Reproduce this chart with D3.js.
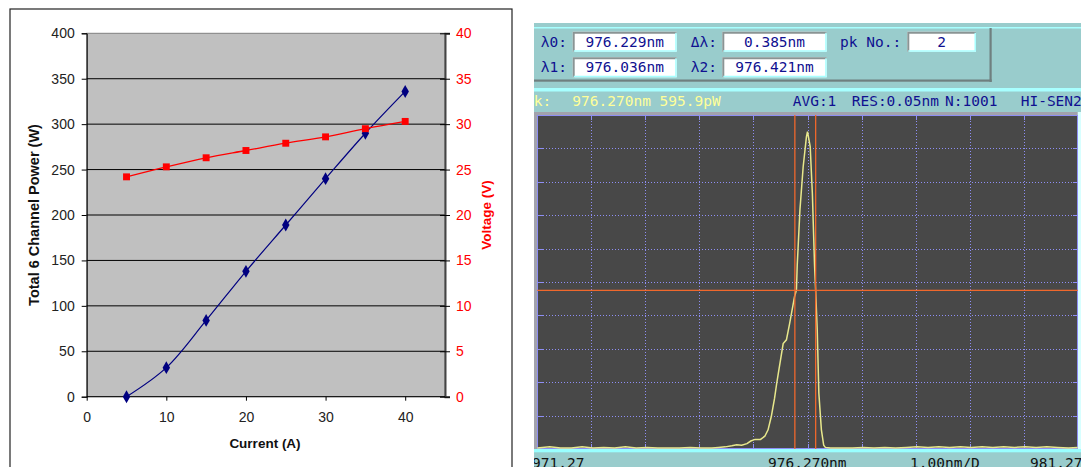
<!DOCTYPE html>
<html lang="en">
<head>
<meta charset="UTF-8">
<title>Channel power / voltage and spectrum</title>
<script src="https://cdnjs.cloudflare.com/ajax/libs/d3/7.8.5/d3.min.js"></script>
<style>
  *{margin:0;padding:0}
  body{background:#fff;width:1081px;height:467px;overflow:hidden}
  svg{display:block}
  .lc text{font-family:"Liberation Sans",Arial,sans-serif;font-size:13.5px}
  .osa text{font-family:"DejaVu Sans Mono",monospace;font-size:14.5px}
</style>
</head>
<body>
<svg id="chart" width="1081" height="467"></svg>
<script>
// left chart: power and voltage vs current
var current=[5,10,15,20,25,30,35,40]
var power=[0,32,84,138,189,240,290,336]
var voltage=[24.2,25.3,26.3,27.1,27.9,28.6,29.5,30.3]
var powerTicks=[0,50,100,150,200,250,300,350,400]
var voltTicks=[0,5,10,15,20,25,30,35,40]
var currentTicks=[0,10,20,30,40]

// right: OSA trace (nm, pW)
var wl=[971.27,971.5,971.7,971.9,972.1,972.3,972.5,972.7,972.9,973.1,973.3,973.5,973.7,973.9,974.1,974.3,974.5,
  974.62,974.75,974.87,974.96,975.05,975.15,975.22,975.30,975.40,975.48,975.54,975.60,975.66,975.70,975.73,
  975.82,975.88,975.94,976.03,976.065,976.08,976.13,976.19,976.25,976.27,976.32,976.36,976.40,976.42,976.45,
  976.48,976.527,976.57,976.60,976.7,976.9,977.1,977.3,977.5,977.7,977.9,978.1,978.3,978.5,978.7,978.9,979.1,
  979.3,979.5,979.7,979.9,980.1,980.3,980.5,980.7,980.9,981.1,981.27]
var pw=[2,4,2,2,4,2,3,2,4,2,3,2,2,2,3,2,2,
  3,4,6,8,7,10,15,18,18,24,36,61,95,123,142,
  198,205,236,286,299,345,449,530,586,595.9,568,480,346,299,224,
  105,36,7,3,2,2,2,3,2,3,2,3,4,3,4,3,4,
  3,4,3,4,3,4,3,4,3,2,3]
var lambda1=976.036, lambda2=976.421, peakPw=595.9
var fieldRows=[["λ0:","976.229nm","Δλ:","0.385nm"],["λ1:","976.036nm","λ2:","976.421nm"]]
var statusLeft=["Pk:","976.270nm 595.9pW"]
var statusRight=["AVG:1","RES:0.05nm","N:1001","HI-SEN2"]
var bottomLabels=["971.27","976.270nm","1.00nm/D","981.27"]

var svg=d3.select('#chart')

// ---------- left chart ----------
var lc=svg.append('g').attr('class','lc')
lc.append('rect').attr('x',10).attr('y',9).attr('width',502).attr('height',470)
  .attr('fill','#fff').attr('stroke','#222').attr('stroke-width',1.2)

var x=d3.scaleLinear().domain([0,45]).range([86.7,445])
var yL=d3.scaleLinear().domain([0,400]).range([396.7,33.3])
var yR=d3.scaleLinear().domain([0,40]).range([396.7,33.3])

lc.append('rect').attr('x',86.7).attr('y',33.3).attr('width',445-86.7).attr('height',396.7-33.3)
  .attr('fill','#c0c0c0').attr('stroke','#808080').attr('stroke-width',1)

lc.selectAll('line.grid').data(powerTicks.slice(1,-1)).enter().append('line')
  .attr('x1',86.7).attr('x2',445).attr('y1',function(d){return yL(d)}).attr('y2',function(d){return yL(d)})
  .attr('stroke','#000').attr('stroke-width',1)

var axL=lc.append('g').attr('transform','translate(86.7,0)')
  .call(d3.axisLeft(yL).tickValues(powerTicks).tickSize(5).tickPadding(7))
axL.selectAll('text').attr('fill','#222').style('font-size','14px')
axL.selectAll('line,path').attr('stroke','#000')

var axR=lc.append('g').attr('transform','translate(445,0)')
  .call(d3.axisRight(yR).tickValues(voltTicks).tickSize(5).tickPadding(6))
axR.selectAll('text').attr('fill','#ff0000').style('font-size','14px')
axR.selectAll('.tick').append('line').attr('x1',-5).attr('x2',0).attr('stroke','#000')
axR.selectAll('line').attr('stroke','#000')
axR.select('.domain').attr('stroke','#444').attr('stroke-width',2)

var axB=lc.append('g').attr('transform','translate(0,396.7)')
  .call(d3.axisBottom(x).tickValues(currentTicks).tickSize(4).tickPadding(11))
axB.selectAll('text').attr('fill','#222').style('font-size','14px')
axB.selectAll('line,path').attr('stroke','#000')
axB.select('.domain').attr('d','M86.7,0H445')

lc.append('text').text('Current (A)').attr('x',265).attr('y',448)
  .attr('text-anchor','middle').attr('font-weight','bold').attr('fill','#111')
lc.append('text').text('Total 6 Channel Power (W)').style('font-size','14.5px')
  .attr('transform','translate(39,215) rotate(-90)')
  .attr('text-anchor','middle').attr('font-weight','bold').attr('fill','#111')
lc.append('text').text('Voltage (V)')
  .attr('transform','translate(491,215) rotate(-90)')
  .attr('text-anchor','middle').attr('font-weight','bold').attr('fill','#ff0000')

var pLine=d3.line().x(function(d,i){return x(current[i])}).y(function(d){return yL(d)}).curve(d3.curveCatmullRom)
var vLine=d3.line().x(function(d,i){return x(current[i])}).y(function(d){return yR(d)}).curve(d3.curveCatmullRom)

lc.append('path').attr('d',pLine(power)).attr('fill','none').attr('stroke','#000080').attr('stroke-width',1.2)
lc.append('path').attr('d',vLine(voltage)).attr('fill','none').attr('stroke','#ff0000').attr('stroke-width',1.3)

lc.selectAll('path.pm').data(power).enter().append('path')
  .attr('d',d3.symbol(d3.symbolDiamond).size(48))
  .attr('transform',function(d,i){return 'translate('+x(current[i])+','+yL(d)+')'})
  .attr('fill','#000080')
lc.selectAll('path.vm').data(voltage).enter().append('path')
  .attr('d',d3.symbol(d3.symbolSquare).size(48))
  .attr('transform',function(d,i){return 'translate('+x(current[i])+','+yR(d)+')'})
  .attr('fill','#ff0000')

// ---------- right: OSA screen ----------
var teal='#99cccc', hi='#a8ffff', navy='#101090'
svg.append('clipPath').attr('id','osaclip').append('rect').attr('x',534).attr('y',0).attr('width',547).attr('height',467)
var osa=svg.append('g').attr('class','osa').attr('clip-path','url(#osaclip)')

osa.append('rect').attr('x',534).attr('y',23).attr('width',547).attr('height',444).attr('fill',teal)
osa.append('rect').attr('x',534).attr('y',27).attr('width',547).attr('height',1.5).attr('fill',hi)
// raised parameter panel shadow
osa.append('rect').attr('x',989.5).attr('y',28).attr('width',2.2).attr('height',54).attr('fill','#6f7f7f')
osa.append('rect').attr('x',534).attr('y',79.5).attr('width',457.7).attr('height',2.2).attr('fill','#6f7f7f')

var boxes=[[572.7,676.7],[722.3,826.7]]
var rowsY=[31.7,57.3]
fieldRows.forEach(function(r,ri){
  var y0=rowsY[ri]
  ;[0,1].forEach(function(k){
    var bx=boxes[k]
    osa.append('text').text(r[k*2]).attr('x',k?690.7:540.7).attr('y',y0+15).attr('fill',navy)
    drawBox(bx[0],y0,bx[1]-bx[0],20)
    osa.append('text').text(r[k*2+1]).attr('x',(bx[0]+bx[1])/2).attr('y',y0+15)
      .attr('text-anchor','middle').attr('fill',navy)
  })
})
osa.append('text').text('pk No.:').attr('x',840).attr('y',46.7).attr('fill',navy)
drawBox(907.3,31.7,68.7,20)
osa.append('text').text('2').attr('x',941.7).attr('y',46.7).attr('text-anchor','middle').attr('fill',navy)

function drawBox(bx,by,bw,bh){
  osa.append('rect').attr('x',bx).attr('y',by).attr('width',bw).attr('height',bh).attr('fill','#fff')
  osa.append('path').attr('d','M'+(bx+1)+','+(by+bh)+'V'+(by+1)+'H'+(bx+bw))
    .attr('fill','none').attr('stroke','#8a9494').attr('stroke-width',2)
  osa.append('path').attr('d','M'+(bx+1)+','+(by+bh-0.75)+'H'+(bx+bw-0.75)+'V'+(by+1))
    .attr('fill','none').attr('stroke',hi).attr('stroke-width',1.5)
}

// status bar
osa.append('rect').attr('x',534).attr('y',88).attr('width',547).attr('height',3.5).attr('fill',hi)
osa.append('text').text(statusLeft[0]).attr('x',525).attr('y',106).attr('fill','#ffff99')
osa.append('text').text(statusLeft[1]).attr('x',572.3).attr('y',106).attr('fill','#ffff99')
var srX=[792.7,851.7,945,1020.7]
statusRight.forEach(function(t,i){
  osa.append('text').text(t).attr('x',srX[i]).attr('y',106).attr('fill',navy)
})

// plot frame
var px=d3.scaleLinear().domain([971.27,981.27]).range([537.3,1077.7])
var py=d3.scaleLinear().domain([0,peakPw*334/317.3]).range([449,115])
var ymax=py.domain()[1]

osa.append('rect').attr('x',534).attr('y',112).attr('width',547).attr('height',3).attr('fill','#a2a2ac')
osa.append('rect').attr('x',534).attr('y',112).attr('width',3.3).attr('height',337).attr('fill','#a2a2ac')
osa.append('rect').attr('x',1077.7).attr('y',112).attr('width',4).attr('height',337).attr('fill','#d8ffff')
osa.append('rect').attr('x',537.3).attr('y',115).attr('width',540.4).attr('height',334).attr('fill','#484848')
osa.append('rect').attr('x',534).attr('y',449).attr('width',547).attr('height',3.3).attr('fill','#99ffff')

var grid='#8e8ef4'
var vg=d3.range(1,10).map(function(i){return 971.27+i})
var hg=d3.range(1,10).map(function(i){return ymax*i/10})
var snap=function(v){return Math.round(v)+0.5}
var gg=osa.append('g').attr('shape-rendering','crispEdges')
gg.selectAll('line.vg').data(vg).enter().append('line')
  .attr('x1',function(d){return snap(px(d))}).attr('x2',function(d){return snap(px(d))})
  .attr('y1',115).attr('y2',449).attr('stroke',grid).attr('stroke-dasharray','1,2')
gg.selectAll('line.hg').data(hg).enter().append('line')
  .attr('y1',function(d){return snap(py(d))}).attr('y2',function(d){return snap(py(d))})
  .attr('x1',537.3).attr('x2',1077.7).attr('stroke',grid).attr('stroke-dasharray','1,2')
// solid edge ticks
vg.forEach(function(d){
  gg.append('line').attr('x1',snap(px(d))).attr('x2',snap(px(d))).attr('y1',115).attr('y2',120).attr('stroke',grid)
  gg.append('line').attr('x1',snap(px(d))).attr('x2',snap(px(d))).attr('y1',444).attr('y2',449).attr('stroke',grid)
})
hg.forEach(function(d){
  gg.append('line').attr('y1',snap(py(d))).attr('y2',snap(py(d))).attr('x1',537.3).attr('x2',542.5).attr('stroke',grid)
  gg.append('line').attr('y1',snap(py(d))).attr('y2',snap(py(d))).attr('x1',1072.5).attr('x2',1077.7).attr('stroke',grid)
})
gg.append('rect').attr('x',537.5).attr('y',115.5).attr('width',540).attr('height',333)
  .attr('fill','none').attr('stroke',grid).attr('stroke-width',1)

var trace=d3.line().x(function(d,i){return px(wl[i])}).y(function(d){return py(d)})
osa.append('path').attr('d',trace(pw)).attr('fill','none').attr('stroke','#e8e88c').attr('stroke-width',1.5)

var orange='#f0682c'
;[lambda1,lambda2].forEach(function(d){
  osa.append('line').attr('x1',px(d)).attr('x2',px(d)).attr('y1',115).attr('y2',449)
    .attr('stroke',orange).attr('stroke-width',1.3)
})
osa.append('line').attr('x1',537.3).attr('x2',1077.7).attr('y1',py(peakPw/2)).attr('y2',py(peakPw/2))
  .attr('stroke',orange).attr('stroke-width',1.3)

var blX=[532,768,910,1030]
bottomLabels.forEach(function(t,i){
  osa.append('text').text(t).attr('x',blX[i]).attr('y',468).attr('fill','#111')
})
</script>
</body>
</html>
